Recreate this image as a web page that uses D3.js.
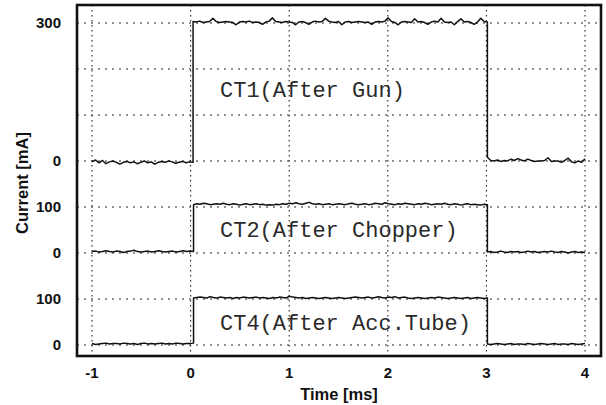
<!DOCTYPE html>
<html>
<head>
<meta charset="utf-8">
<script src="https://cdn.jsdelivr.net/npm/d3@7/dist/d3.min.js"></script>
<style>
  html, body { margin: 0; padding: 0; background: #fff; }
  svg { display: block; }
  .tick-label { font-family: "Liberation Sans", Arial, sans-serif; font-weight: bold; font-size: 15px; fill: #111; }
  .axis-title { font-family: "Liberation Sans", Arial, sans-serif; font-weight: bold; font-size: 16.5px; fill: #111; }
  .trace-label { font-family: "Liberation Mono", "Courier New", monospace; font-size: 22px; fill: #2a2a2a; }
</style>
</head>
<body>
<div id="graph"></div>
<script>
// DATA
// x axis ticks (time in ms)
const xTicks = [-1, 0, 1, 2, 3, 4]
// the three traces share one stacked y axis: each one sits on its own baseline (mA)
const traceNames = ["CT1(After Gun)", "CT2(After Chopper)", "CT4(After Acc.Tube)"]
const traceBase = [400, 200, 0]
const riseTimes = [0.025, 0.03, 0.03]
const fallTimes = [3.01, 3.01, 3.01]
// y tick positions on the stacked axis and what they say
const yTickPos = [700, 400, 300, 200, 100, 0]
const yTickText = ["300", "0", "100", "0", "100", "0"]
const yGrid = [0, 100, 200, 300, 400, 500, 600, 700]

// CT1 current [mA], before pulse / during pulse / after pulse
const ct1Pre = [-2, 2, -4, 1, -6, -2, 0, -3, -7, -3, -1, -4, -2, -6, -3, 0, -4, -2, -7, -3, -1, -3, 0, -2, -5, -3, -1, -4, -2, -3]
const ct1On = [303, 302, 304, 301, 302, 303, 310, 303, 301, 302,
  303, 302, 301, 296, 302, 303, 302, 304, 301, 302,
  301, 297, 302, 304, 311, 303, 302, 301, 303, 302,
  301, 296, 302, 303, 301, 297, 302, 304, 302, 303,
  310, 304, 302, 301, 303, 296, 302, 303, 301, 302,
  303, 302, 301, 302, 297, 302, 303, 302, 304, 311,
  303, 301, 296, 302, 303, 302, 301, 309, 302, 303,
  301, 297, 302, 304, 302, 310, 302, 301, 302, 296,
  303, 309, 302, 303, 301, 297, 302, 310, 303, 302]
const ct1Post = [8, 1, 0, 2, -1, 1, 0, 4, 1, 5, 2, 0, 4, 1, -1, 0, 0, 1, 7, -1, 0, 0, -3, 1, 6, -2, -4, 0, -3, 5]

// CT2 current [mA]
const ct2Pre = [3, 4, 2, 3, 5, 3, 2, 4, 3, 1, 3, 4, 6, 3, 2, 3, 4, 2, 3, 5, 3, 2, 3, 4, 2, 3, 5, 3, 4, 3]
const ct2On = [105, 107, 106, 108, 107, 105, 106, 107, 106, 108,
  106, 105, 107, 106, 104, 106, 107, 105, 106, 107,
  105, 106, 104, 105, 104, 106, 105, 107, 106, 108,
  107, 109, 107, 106, 108, 110, 107, 106, 107, 105,
  106, 107, 105, 106, 107, 106, 105, 107, 108, 106,
  105, 106, 107, 105, 106, 108, 107, 106, 109, 107,
  106, 105, 107, 106, 108, 107, 106, 105, 107, 106,
  108, 107, 105, 106, 107, 106, 108, 106, 105, 107,
  106, 104, 106, 107, 105, 106, 105, 104, 106, 105]
const ct2Post = [2, 3, 1, 2, 4, 2, 1, 3, 2, 3, 1, 2, 4, 2, 3, 1, 2, 3, 2, 4, 2, 1, 3, 2, 0, 2, 3, 1, 2, 1]

// CT4 current [mA]
const ct4Pre = [3, 1, 2, 3, 4, 2, 3, 3, 2, 4, 3, 2, 3, 1, 3, 4, 2, 3, 2, 3, 4, 2, 3, 2, 4, 3, 2, 3, 3, 4]
const ct4On = [102, 103, 104, 103, 102, 105, 103, 102, 104, 103,
  102, 103, 101, 103, 102, 104, 103, 102, 103, 104,
  102, 103, 102, 101, 103, 102, 104, 103, 102, 106,
  104, 103, 102, 103, 101, 102, 103, 102, 101, 102,
  103, 102, 101, 102, 103, 102, 101, 102, 103, 104,
  103, 102, 103, 104, 102, 103, 105, 103, 102, 104,
  103, 105, 102, 103, 104, 102, 101, 102, 103, 102,
  101, 102, 103, 102, 104, 103, 102, 101, 102, 103,
  102, 101, 102, 103, 101, 102, 103, 102, 101, 102]
const ct4Post = [2, 1, 2, 3, 2, 1, 2, 3, 1, 2, 2, 1, 3, 2, 1, 2, 3, 2, 1, 2, 3, 1, 2, 2, 1, 3, 2, 1, 2, 3]

const pieces = [[ct1Pre, ct1On, ct1Post], [ct2Pre, ct2On, ct2Post], [ct4Pre, ct4On, ct4Post]]


// SIZES
const width = 606
const height = 405
// plot frame in pixels
const frame = { left: 77, top: 5, right: 601, bottom: 356 }

const svg = d3.select('#graph').append("svg").attr("width", width).attr("height", height)

const xScale = d3.scaleLinear().domain([-1.152, 4.162]).range([frame.left, frame.right])
const yScale = d3.scaleLinear().domain([-24, 739]).range([frame.bottom, frame.top])


// GRID (dotted)
svg.append('g').selectAll('line').data(yGrid).enter().append('line')
  .attr('x1', frame.left).attr('x2', frame.right)
  .attr('y1', d => yScale(d)).attr('y2', d => yScale(d))
  .attr('stroke', '#222').attr('stroke-width', 1.1)
  .attr('stroke-dasharray', '2,5')

svg.append('g').selectAll('line').data(xTicks).enter().append('line')
  .attr('x1', d => xScale(d)).attr('x2', d => xScale(d))
  .attr('y1', frame.top).attr('y2', frame.bottom)
  .attr('stroke', '#222').attr('stroke-width', 1.1)
  .attr('stroke-dasharray', '1.5,3.5')


// TRACES
// spread each piece evenly over its time span
function spread(values, t0, t1){
  return values.map((v, i) => [t0 + (t1 - t0) * i / (values.length - 1), v])
}

const line = d3.line()
  .x(d => xScale(d[0]))
  .y(d => yScale(d[1]))

pieces.forEach((p, k) => {
  const pts = [].concat(
    spread(p[0], -1, riseTimes[k]),
    spread(p[1], riseTimes[k], fallTimes[k]),
    spread(p[2], fallTimes[k], 4)
  ).map(d => [d[0], d[1] + traceBase[k]])
  svg.append('path')
    .attr('d', line(pts))
    .attr('fill', 'none')
    .attr('stroke', '#111')
    .attr('stroke-width', 1.5)
    .attr('stroke-linejoin', 'round')
})


// FRAME
svg.append('rect')
  .attr('x', frame.left).attr('y', frame.top)
  .attr('width', frame.right - frame.left).attr('height', frame.bottom - frame.top)
  .attr('fill', 'none').attr('stroke', '#111').attr('stroke-width', 2.6)


// TICK LABELS
svg.append('g').selectAll('text').data(yTickPos).enter().append('text')
  .attr('class', 'tick-label')
  .attr('x', 61)
  .attr('y', d => yScale(d))
  .attr('dy', '0.35em')
  .style('text-anchor', 'end')
  .text((d, i) => yTickText[i])

svg.append('g').selectAll('text').data(xTicks).enter().append('text')
  .attr('class', 'tick-label')
  .attr('x', d => xScale(d))
  .attr('y', 378)
  .style('text-anchor', 'middle')
  .text(d => d)


// AXIS TITLES
svg.append('text')
  .attr('class', 'axis-title')
  .attr('transform', 'translate(28, 183) rotate(-90)')
  .style('text-anchor', 'middle')
  .text('Current [mA]')

svg.append('text')
  .attr('class', 'axis-title')
  .attr('x', 339).attr('y', 400)
  .style('text-anchor', 'middle')
  .text('Time [ms]')


// TRACE NAMES
const labelY = [97, 237, 330]
svg.append('g').selectAll('text').data(traceNames).enter().append('text')
  .attr('class', 'trace-label')
  .attr('x', 220)
  .attr('y', (d, i) => labelY[i])
  .text(d => d)
</script>
</body>
</html>
